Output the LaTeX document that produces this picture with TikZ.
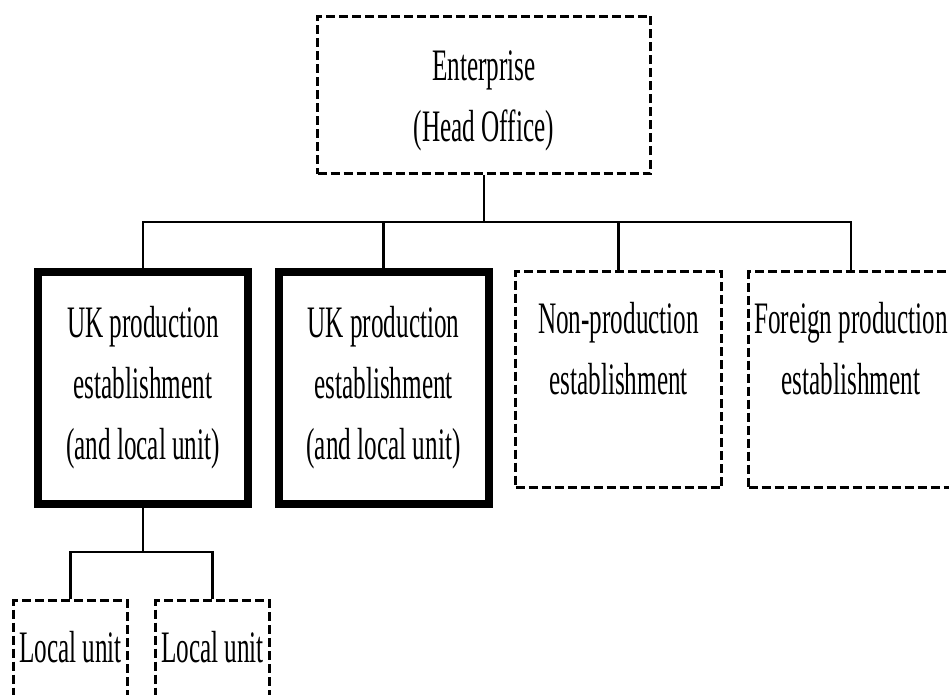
\documentclass[tikz,border=0pt]{standalone}
\usepackage{fontspec}
\setmainfont{Liberation Serif}[FakeStretch=0.56]
\usetikzlibrary{positioning}
\usetikzlibrary{calc}
\tikzset{unitbox/.style={draw,line width=3.5pt,dash pattern=on 9pt off 4pt,inner sep=0pt},
ukbox/.style={draw,line width=8pt,minimum width=210pt,minimum height=232pt,align=center,inner sep=0pt},
wire/.style={line width=2.5pt},
every node/.style={font=\fontsize{45}{61}\selectfont}}

\begin{document}
\begin{tikzpicture}[x=1pt,y=-1pt]
\useasboundingbox (0,0) rectangle (949,695);

\node (ent) at (484,95) [unitbox,minimum width=333pt,minimum height=157pt] {};
\node (enttext) at (484,101) [align=center] {Enterprise\\(Head Office)};

\node (uk1) at (143,388) [ukbox] {UK production\\establishment\\(and local unit)};
\node (uk2) at (383.5,388) [ukbox] {UK production\\establishment\\(and local unit)};

\node (nonprod) at (618.5,379.5) [unitbox,minimum width=206pt,minimum height=216pt] {};
\node (nonprodtext) at (618.5,349) [align=center] {Non-production\\establishment};
\node (foreign) at (851,379.5) [unitbox,minimum width=205pt,minimum height=216pt] {};
\node (foreigntext) at (851,349) [align=center] {Foreign production\\establishment};

\foreach \x/\n in {70.5/lu1, 212.5/lu2} {
\node (\n) at (\x,670.5) [unitbox,minimum width=114pt,minimum height=140pt] {};
\node (\n text) at (\x,647) {Local unit};
}

% connectors
\coordinate (bus) at (484,222);
\draw[wire] (ent.south) -- (bus);
\draw[wire] (uk1.north) |- (bus) -| (foreign.north);
\draw[wire] (uk2.north) -- (uk2.north |- bus);
\draw[wire] (nonprod.north) -- (nonprod.north |- bus);

\coordinate (lbus) at (143,552);
\draw[wire] (uk1.south) -- (lbus);
\draw[wire] (lu1.north) |- (lbus) -| (lu2.north);
%\draw[wire] (lu1.north) -- (lu1.north |- lbus);
\end{tikzpicture}
\end{document}
